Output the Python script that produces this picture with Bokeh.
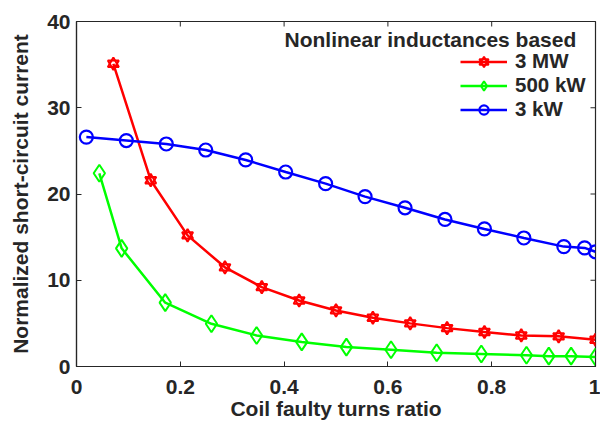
from bokeh.plotting import figure
from bokeh.models import (Range1d, FixedTicker, Legend, LegendItem, Label,
                          ColumnDataSource)
from bokeh.embed import file_html
from bokeh.resources import INLINE

# ---- data ----
mw3_x = [0.071, 0.143, 0.214, 0.286, 0.357, 0.429, 0.500, 0.571, 0.643, 0.714, 0.786, 0.857, 0.929, 1.0]
mw3_y = [35.1, 21.6, 15.2, 11.5, 9.2, 7.65, 6.5, 5.65, 5.0, 4.45, 4.0, 3.6, 3.5, 3.1]

kw500_x = [0.044, 0.087, 0.171, 0.26, 0.347, 0.434, 0.52, 0.606, 0.694, 0.78, 0.867, 0.91, 0.953, 1.0]
kw500_y = [22.4, 13.7, 7.4, 4.95, 3.6, 2.85, 2.25, 1.95, 1.6, 1.45, 1.3, 1.2, 1.2, 1.1]

kw3_x = [0.019, 0.096, 0.173, 0.249, 0.326, 0.403, 0.48, 0.556, 0.633, 0.71, 0.786, 0.862, 0.939, 0.979, 1.0]
kw3_y = [26.6, 26.2, 25.8, 25.1, 23.95, 22.55, 21.2, 19.7, 18.4, 17.05, 15.95, 14.9, 13.9, 13.75, 13.3]

x_ticks = [0, 0.2, 0.4, 0.6, 0.8, 1.0]
x_tick_labels = ["0", "0.2", "0.4", "0.6", "0.8", "1"]
y_ticks = [0, 10, 20, 30, 40]

series_names = ["3 MW", "500 kW", "3 kW"]
legend_title = "Nonlinear inductances based"
x_label = "Coil faulty turns ratio"
y_label = "Normalized short-circuit current"

FONT = "Liberation Sans"
AX = "#262626"
X0, X1, Y0, Y1 = 0, 1, 0, 40
FRAME_W, FRAME_H = 519, 345
TICK_PX = 5

p = figure(width=600, height=428, output_backend="svg", toolbar_location=None,
           x_range=Range1d(X0, X1), y_range=Range1d(Y0, Y1),
           min_border_left=76, min_border_right=5, min_border_top=21, min_border_bottom=62)
p.background_fill_color = "white"
p.border_fill_color = "white"
p.outline_line_color = AX
p.outline_line_width = 1.2
p.xgrid.visible = False
p.ygrid.visible = False

def style_axis(ax):
    ax.axis_line_color = AX
    ax.axis_line_width = 1.2
    ax.major_tick_line_color = AX
    ax.major_tick_in = TICK_PX
    ax.major_tick_out = 0
    ax.minor_tick_line_color = None
    ax.major_label_text_font = FONT
    ax.major_label_text_font_style = "bold"
    ax.major_label_text_color = AX
    ax.major_label_text_font_size = "21px"
    ax.axis_label_text_font = FONT
    ax.axis_label_text_font_style = "bold"
    ax.axis_label_text_color = AX
    ax.axis_label_text_font_size = "21px"

xax = p.xaxis[0]
yax = p.yaxis[0]
xax.ticker = FixedTicker(ticks=x_ticks)
xax.major_label_overrides = {t: l for t, l in zip(x_ticks, x_tick_labels)}
yax.ticker = FixedTicker(ticks=y_ticks)
style_axis(xax)
style_axis(yax)
xax.axis_label = x_label
yax.axis_label = y_label
xax.major_label_standoff = 13
yax.major_label_standoff = 6
xax.axis_label_standoff = 0
yax.axis_label_standoff = 12

# inward ticks on the top and right edges of the box
dy = (Y1 - Y0) / FRAME_H * TICK_PX
dx = (X1 - X0) / FRAME_W * TICK_PX
p.segment(x0=x_ticks, y0=[Y1] * len(x_ticks), x1=x_ticks, y1=[Y1 - dy] * len(x_ticks),
          line_color=AX, line_width=1)
p.segment(x0=[X1] * len(y_ticks), y0=y_ticks, x1=[X1 - dx] * len(y_ticks), y1=y_ticks,
          line_color=AX, line_width=1)

# ---- series ----
s1 = ColumnDataSource(dict(x=mw3_x, y=mw3_y))
s2 = ColumnDataSource(dict(x=kw500_x, y=kw500_y))
s3 = ColumnDataSource(dict(x=kw3_x, y=kw3_y))

RED, GREEN, BLUE = "#FF0000", "#00FF00", "#0000FF"

r1l = p.line("x", "y", source=s1, line_color=RED, line_width=2.5)
r1a = p.scatter("x", "y", source=s1, marker="triangle", size=11, line_color=RED,
                fill_color=None, line_width=2)
r1b = p.scatter("x", "y", source=s1, marker="inverted_triangle", size=11, line_color=RED,
                fill_color=None, line_width=2)

r2l = p.line("x", "y", source=s2, line_color=GREEN, line_width=2.5)
r2m = p.scatter("x", "y", source=s2, marker="diamond", size=17, line_color=GREEN,
                fill_color=None, line_width=2)

r3l = p.line("x", "y", source=s3, line_color=BLUE, line_width=2.5)
r3m = p.scatter("x", "y", source=s3, marker="circle", size=13, line_color=BLUE,
                fill_color=None, line_width=2.2)

legend = Legend(items=[
    LegendItem(label=series_names[0], renderers=[r1l, r1a, r1b]),
    LegendItem(label=series_names[1], renderers=[r2l, r2m]),
    LegendItem(label=series_names[2], renderers=[r3l, r3m]),
], location=(384, 245))
legend.glyph_width = 47
legend.glyph_height = 23
legend.label_height = 23
legend.spacing = 0
legend.padding = 0
legend.margin = 0
legend.label_standoff = 8
legend.label_text_font = FONT
legend.label_text_font_style = "bold"
legend.label_text_font_size = "20.5px"
legend.label_text_color = AX
legend.background_fill_alpha = 0
legend.border_line_alpha = 0
p.add_layout(legend)

title_lbl = Label(x=0.963, y=37.95, text=legend_title, text_align="right",
                  text_baseline="middle", text_font=FONT, text_font_style="bold",
                  text_font_size="21px", text_color=AX)
p.add_layout(title_lbl)

open("out.html", "w").write(file_html(p, INLINE))
